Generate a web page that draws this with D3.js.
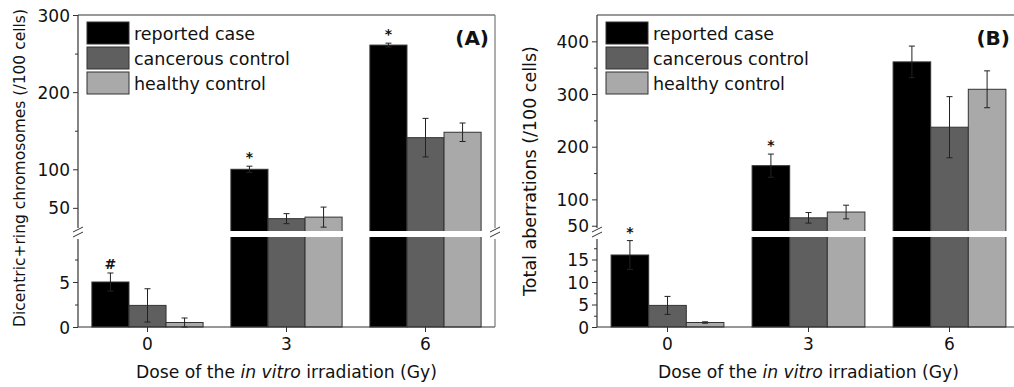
<!DOCTYPE html>
<html>
<head>
<meta charset="utf-8">
<script src="https://cdn.jsdelivr.net/npm/d3@7"></script>
<style>
  body { margin: 0; background: #fff; }
  svg text { font-family: "DejaVu Sans", sans-serif; fill: #111; }
</style>
</head>
<body>
<div id="chart"></div>
<script>
// data
var doses = ["0", "3", "6"];
var groups = ["reported case", "cancerous control", "healthy control"];
var colors = ["#000000", "#5f5f5f", "#a9a9a9"];

// (A) dicentric + ring chromosomes per 100 cells
var dicReported = [5.0, 100, 261];
var dicReportedErr = [1.0, 4, 2.5];
var dicCancer = [2.4, 36, 141];
var dicCancerErr = [1.85, 6.5, 25];
var dicHealthy = [0.5, 38, 148];
var dicHealthyErr = [0.5, 13, 12];
var dicMarks = ["#", "*", "*"];

// (B) total aberrations per 100 cells
var totReported = [16, 164, 361];
var totReportedErr = [3.2, 22, 30];
var totCancer = [4.8, 65, 237];
var totCancerErr = [2, 10, 58];
var totHealthy = [1.0, 76, 309];
var totHealthyErr = [0.15, 13, 35];
var totMarks = ["*", "*", ""];

// ticks
var dicLowTicks = [0, 5], dicLowMinor = [2.5, 7.5];
var dicUpTicks = [50, 100, 200, 300], dicUpMinor = [150, 250];
var totLowTicks = [0, 5, 10, 15], totLowMinor = [2.5, 7.5, 12.5, 17.5];
var totUpTicks = [50, 100, 200, 300, 400], totUpMinor = [150, 250, 350];

var width = 1014, height = 387;
var plotTop = 15, plotBottom = 327, breakLo = 237, breakHi = 231;

var svg = d3.select("#chart").append("svg")
    .attr("width", width)
    .attr("height", height);

function drawPanel(p) {
    var g = svg.append("g");
    var x = d3.scaleBand().domain(doses).range([p.left, p.right])
        .paddingInner(0.2).paddingOuter(0.1);
    var xs = d3.scaleBand().domain(d3.range(3)).range([0, x.bandwidth()]);
    var yLow = d3.scaleLinear().domain([0, p.lowMax]).range([plotBottom, breakLo]);
    var yUp = d3.scaleLinear().domain([p.upMin, p.upMax]).range([breakHi, plotTop]);
    function yPos(v) { return v <= p.lowMax ? yLow(v) : yUp(v); }

    var rows = [];
    p.vals.forEach(function(s, i) {
        s.forEach(function(v, j) {
            rows.push({dose: doses[j], k: i, v: v, e: p.errs[i][j], mark: i == 0 ? p.marks[j] : ""});
        });
    });

    // bars (drawn whole, the break band is painted over them)
    g.selectAll(".bar").data(rows).enter().append("rect")
        .attr("x", function(d) { return x(d.dose) + xs(d.k); })
        .attr("width", xs.bandwidth())
        .attr("y", function(d) { return yPos(d.v); })
        .attr("height", function(d) { return plotBottom - yPos(d.v); })
        .attr("fill", function(d) { return colors[d.k]; })
        .attr("stroke", "#333").attr("stroke-width", 1);
    g.append("rect")
        .attr("x", p.left + 1).attr("width", p.right - p.left - 2)
        .attr("y", breakHi).attr("height", breakLo - breakHi)
        .attr("fill", "#fff");

    // error bars
    var eb = g.selectAll(".err").data(rows).enter().append("g")
        .attr("stroke", "#222").attr("stroke-width", 1);
    eb.append("line")
        .attr("x1", function(d) { return x(d.dose) + xs(d.k) + xs.bandwidth() / 2; })
        .attr("x2", function(d) { return x(d.dose) + xs(d.k) + xs.bandwidth() / 2; })
        .attr("y1", function(d) { return yPos(d.v - d.e); })
        .attr("y2", function(d) { return yPos(d.v + d.e); });
    [1, -1].forEach(function(sg) {
        eb.append("line")
            .attr("x1", function(d) { return x(d.dose) + xs(d.k) + xs.bandwidth() / 2 - 3; })
            .attr("x2", function(d) { return x(d.dose) + xs(d.k) + xs.bandwidth() / 2 + 3; })
            .attr("y1", function(d) { return yPos(d.v + sg * d.e); })
            .attr("y2", function(d) { return yPos(d.v + sg * d.e); });
    });

    // significance marks
    g.selectAll(".mark").data(rows.filter(function(d) { return d.mark; })).enter().append("text")
        .attr("x", function(d) { return x(d.dose) + xs(d.k) + xs.bandwidth() / 2; })
        .attr("y", function(d) { return yPos(d.v + d.e) - 4; })
        .attr("text-anchor", "middle")
        .style("font-size", "14px").style("font-weight", "bold")
        .text(function(d) { return d.mark; });

    // frame
    g.append("line").attr("x1", p.left).attr("x2", p.right).attr("y1", plotTop).attr("y2", plotTop)
        .attr("stroke", "#777").attr("stroke-width", 1.5);
    g.append("line").attr("x1", p.left).attr("x2", p.right).attr("y1", plotBottom).attr("y2", plotBottom)
        .attr("stroke", "#333").attr("stroke-width", 1.2);
    [p.left, p.right].forEach(function(xx, i) {
        var c = i == 0 ? "#333" : "#777";
        g.append("line").attr("x1", xx).attr("x2", xx).attr("y1", plotTop).attr("y2", breakHi - 3)
            .attr("stroke", c).attr("stroke-width", 1.2);
        g.append("line").attr("x1", xx).attr("x2", xx).attr("y1", breakLo + 2).attr("y2", plotBottom)
            .attr("stroke", c).attr("stroke-width", 1.2);
        [-3, 2].forEach(function(dy) {
            g.append("line")
                .attr("x1", xx - 5).attr("x2", xx + 5)
                .attr("y1", breakHi + dy + 4).attr("y2", breakHi + dy - 1)
                .attr("stroke", "#333").attr("stroke-width", 1);
        });
    });

    // y axes
    function yAxis(scale, ticks, minor) {
        var a = g.append("g").attr("transform", "translate(" + p.left + ",0)")
            .call(d3.axisLeft(scale).tickValues(ticks).tickSize(5).tickPadding(3));
        a.select(".domain").remove();
        a.selectAll("text").style("font-size", "17px").attr("dy", "0.36em").attr("fill", "#111");
        a.selectAll(".tick line").attr("stroke", "#333");
        var m = g.append("g").attr("transform", "translate(" + p.left + ",0)")
            .call(d3.axisLeft(scale).tickValues(minor).tickSize(3).tickFormat(""));
        m.select(".domain").remove();
        m.selectAll(".tick line").attr("stroke", "#333");
    }
    yAxis(yLow, p.lowTicks, p.lowMinor);
    yAxis(yUp, p.upTicks, p.upMinor);

    // x axis
    var xa = g.append("g").attr("transform", "translate(0," + plotBottom + ")")
        .call(d3.axisBottom(x).tickSize(5).tickPadding(6));
    xa.select(".domain").remove();
    xa.selectAll("text").style("font-size", "17px").attr("fill", "#111");
    xa.selectAll(".tick line").attr("stroke", "#333");

    var xt = g.append("text")
        .attr("x", (p.left + p.right) / 2 + p.xtShift).attr("y", 378)
        .attr("text-anchor", "middle").style("font-size", "17.2px");
    xt.append("tspan").text("Dose of the ");
    xt.append("tspan").style("font-style", "italic").text("in vitro");
    xt.append("tspan").text(" irradiation (Gy)");

    g.append("text")
        .attr("transform", "translate(" + p.ytX + "," + p.ytY + ") rotate(-90)")
        .attr("text-anchor", "middle").style("font-size", p.ytSize)
        .text(p.yTitle);

    // legend
    var lg = g.append("g").attr("transform", "translate(" + (p.left + 9) + ",22)");
    groups.forEach(function(name, i) {
        lg.append("rect").attr("x", 0).attr("y", i * 25).attr("width", 42).attr("height", 22)
            .attr("fill", colors[i]).attr("stroke", "#333").attr("stroke-width", 1);
        lg.append("text").attr("x", 47).attr("y", i * 25 + 18)
            .style("font-size", "17.5px").text(name);
    });

    g.append("text").attr("x", p.labelX).attr("y", 45)
        .attr("text-anchor", "end")
        .style("font-size", "20px").style("font-weight", "bold")
        .text(p.label);
}

drawPanel({
    left: 78, right: 495,
    lowMax: 10, upMin: 20, upMax: 300,
    vals: [dicReported, dicCancer, dicHealthy],
    errs: [dicReportedErr, dicCancerErr, dicHealthyErr],
    marks: dicMarks,
    lowTicks: dicLowTicks, lowMinor: dicLowMinor,
    upTicks: dicUpTicks, upMinor: dicUpMinor,
    yTitle: "Dicentric+ring chromosomes (/100 cells)", ytX: 25, ytY: 168, ytSize: "15.5px",
    label: "(A)", labelX: 489, xtShift: 0
});

drawPanel({
    left: 597, right: 1020,
    lowMax: 20, upMin: 40, upMax: 450,
    vals: [totReported, totCancer, totHealthy],
    errs: [totReportedErr, totCancerErr, totHealthyErr],
    marks: totMarks,
    lowTicks: totLowTicks, lowMinor: totLowMinor,
    upTicks: totUpTicks, upMinor: totUpMinor,
    yTitle: "Total aberrations (/100 cells)", ytX: 536, ytY: 171, ytSize: "17.5px",
    label: "(B)", labelX: 1010, xtShift: 0
});
</script>
</body>
</html>
